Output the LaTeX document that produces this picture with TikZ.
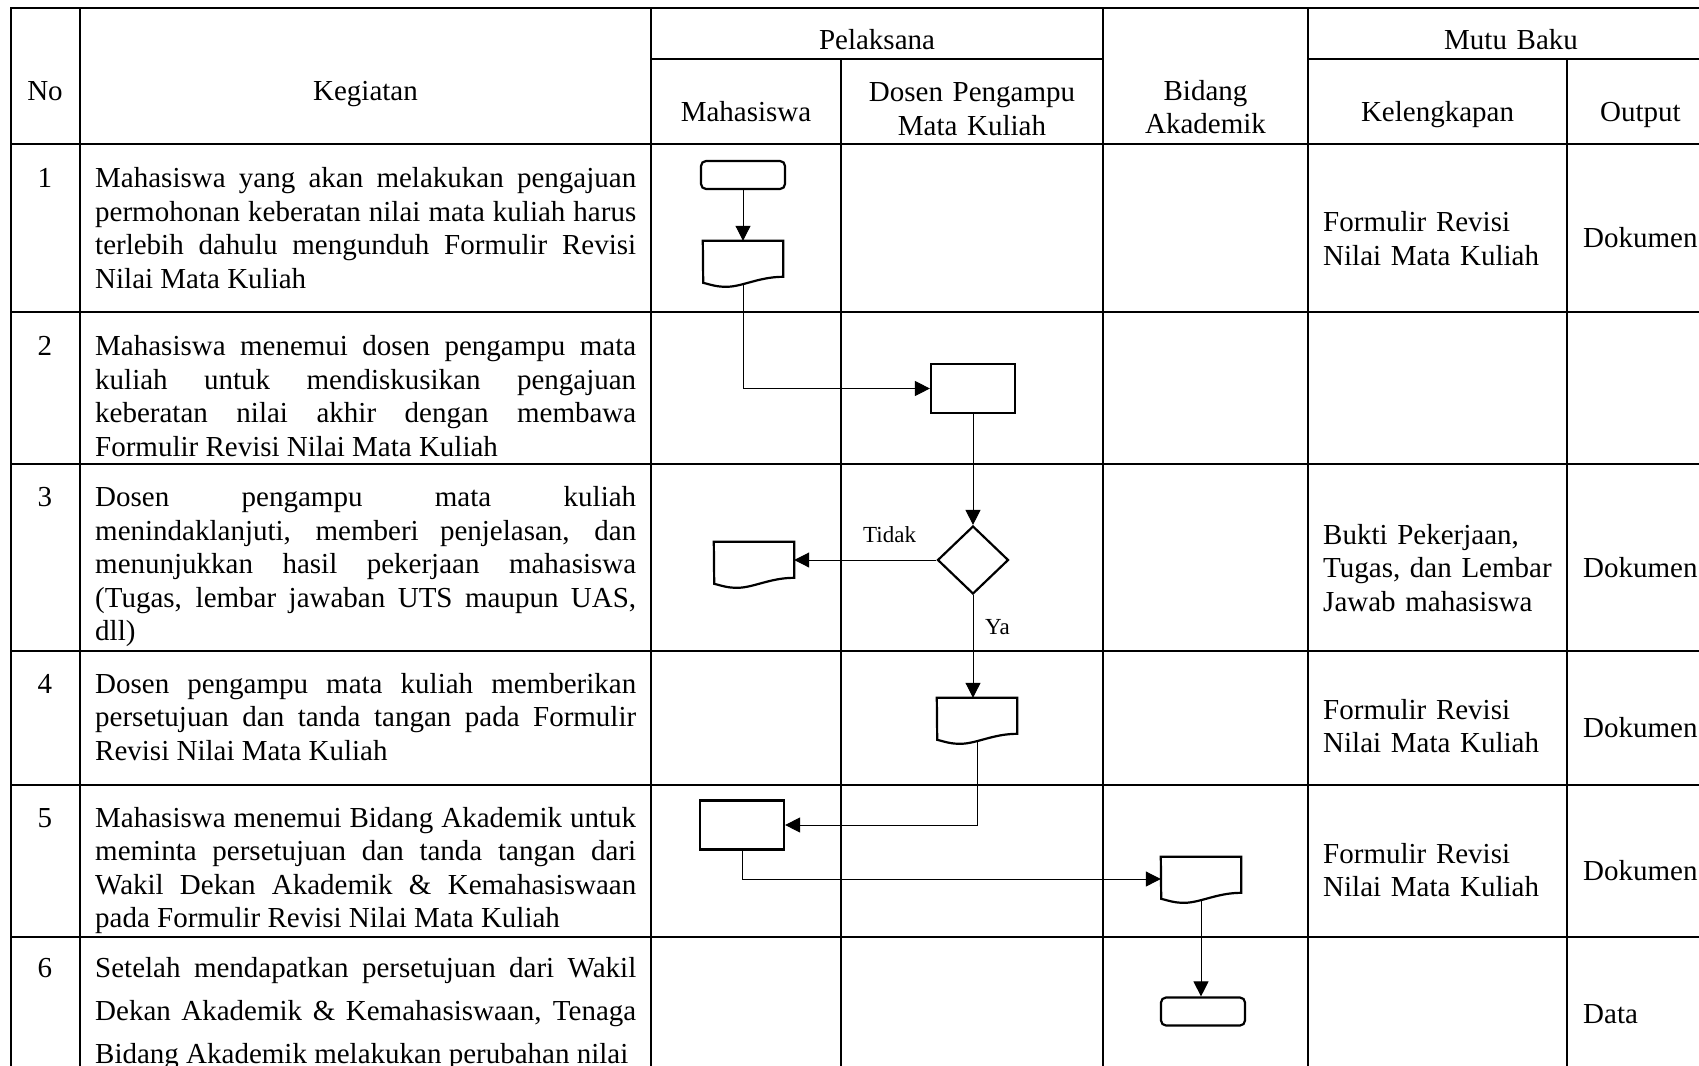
\documentclass[tikz,border=0pt]{standalone}
\usepackage{fontspec}
\setmainfont{Liberation Serif}
\usetikzlibrary{arrows.meta,shapes.geometric}
\hyphenpenalty=10000
\exhyphenpenalty=10000
\tolerance=10000
\hbadness=10000

\begin{document}
\begin{tikzpicture}[x=1pt, y=-1pt,
        tline/.style = {line width=2pt, line cap=rect},
        txt/.style = {font=\fontsize{29pt}{33.5pt}\selectfont, inner sep=0pt},
        head/.style = {txt, align=center, text width=250pt, anchor=base},
        task/.style = {txt, align=justify, text width=541pt, anchor=base west},
        note/.style = {txt, align=left, text width=240pt, anchor=base west},
        lbl/.style = {font=\fontsize{23pt}{27pt}\selectfont, inner sep=0pt, anchor=base west},
        term/.style = {draw, line width=2.2pt, rounded corners=5pt, minimum width=84pt, minimum height=28pt, inner sep=0pt},
        proc/.style = {draw, line width=2.2pt, minimum width=84pt, minimum height=49pt, inner sep=0pt},
        dec/.style = {draw, diamond, line width=2.2pt, minimum width=71pt, minimum height=68pt, inner sep=0pt},
        doc/.style = {minimum width=80pt, minimum height=44pt, inner sep=0pt},
        flow/.style = {line width=1pt, -{Triangle[length=15pt, width=15pt]}}]
    \path[use as bounding box, fill=white] (0,0) rectangle (1699,1065);

    \draw[tline] (11,8) -- (1710,8);
    \draw[tline] (651,59) -- (1103,59);
    \draw[tline] (1308,59) -- (1710,59);
    \foreach \y in {144,312,464,651,785,937}
        \draw[tline] (11,\y) -- (1710,\y);
    \foreach \x in {11,80,651,1103,1308}
        \draw[tline] (\x,8) -- (\x,1075);
    \foreach \x in {841,1567}
        \draw[tline] (\x,59) -- (\x,1075);

    \node[head] (no) at (45,100) {No};
    \node[head] (keg) at (365.5,100) {Kegiatan};
    \node[head] (pel) at (877,50) {Pelaksana};
    \node[head] (mutu) at (1511,50) {Mutu Baku};
    \node[head] (mhs) at (746,121.5) {Mahasiswa};
    \node[head] (dsn) at (972,101.5) {Dosen Pengampu\\Mata Kuliah};
    \node[head] (bid) at (1205.5,100) {Bidang\\Akademik};
    \node[head] (kel) at (1437.5,121.5) {Kelengkapan};
    \node[head] (out) at (1640.5,121.5) {Output};

    \node[head] (n1) at (45,187.7) {1};
    \node[head] (n2) at (45,355.5) {2};
    \node[head] (n3) at (45,506.7) {3};
    \node[head] (n4) at (45,693) {4};
    \node[head] (n5) at (45,827) {5};
    \node[head] (n6) at (45,977.3) {6};

    \node[task] (k1) at (95,187.7) {Mahasiswa yang akan melakukan pengajuan\linebreak
        permohonan keberatan nilai mata kuliah harus\linebreak
        terlebih dahulu mengunduh Formulir Revisi\linebreak
        Nilai Mata Kuliah};
    \node[task] (k2) at (95,355.5) {Mahasiswa menemui dosen pengampu mata\linebreak
        kuliah untuk mendiskusikan pengajuan\linebreak
        keberatan nilai akhir dengan membawa\linebreak
        Formulir Revisi Nilai Mata Kuliah};
    \node[task] (k3) at (95,506.7) {Dosen pengampu mata kuliah\linebreak
        menindaklanjuti, memberi penjelasan, dan\linebreak
        menunjukkan hasil pekerjaan mahasiswa\linebreak
        (Tugas, lembar jawaban UTS maupun UAS,\linebreak
        dll)};
    \node[task] (k4) at (95,693) {Dosen pengampu mata kuliah memberikan\linebreak
        persetujuan dan tanda tangan pada Formulir\linebreak
        Revisi Nilai Mata Kuliah};
    \node[task] (k5) at (95,827) {Mahasiswa menemui Bidang Akademik untuk\linebreak
        meminta persetujuan dan tanda tangan dari\linebreak
        Wakil Dekan Akademik \& Kemahasiswaan\linebreak
        pada Formulir Revisi Nilai Mata Kuliah};
    \node[task, font=\fontsize{29pt}{43pt}\selectfont] (k6) at (95,977.3) {\parfillskip=0pt
        Setelah mendapatkan persetujuan dari Wakil\linebreak
        Dekan Akademik \& Kemahasiswaan, Tenaga\linebreak
        Bidang Akademik melakukan perubahan nilai};

    \node[note] (c1) at (1323,231.5) {Formulir Revisi\\Nilai Mata Kuliah};
    \node[note] (c3) at (1323,544) {Bukti Pekerjaan,\\Tugas, dan Lembar\\Jawab mahasiswa};
    \node[note] (c4) at (1323,719) {Formulir Revisi\\Nilai Mata Kuliah};
    \node[note] (c5) at (1323,863) {Formulir Revisi\\Nilai Mata Kuliah};
    \node[note] (o1) at (1583,247.5) {Dokumen};
    \node[note] (o3) at (1583,577) {Dokumen};
    \node[note] (o4) at (1583,737) {Dokumen};
    \node[note] (o5) at (1583,880) {Dokumen};
    \node[note] (o6) at (1583,1023) {Data};

    \node[term] (t1) at (743,175) {};
    \node[doc] (d1) at (743,263) {};
    \node[proc] (p2) at (973,388.5) {};
    \node[dec] (q3) at (973,560) {};
    \node[doc] (d3) at (754,564) {};
    \node[doc] (d4) at (977,720) {};
    \node[proc] (p5) at (742,825) {};
    \node[doc] (d6) at (1201,879) {};
    \node[term] (t6) at (1203,1011.5) {};

    \foreach \d in {d1,d3,d4,d6}
        \draw[line width=2.2pt] (\d.north west) -- (\d.north east) -- ++(0pt,-36pt)
            .. controls +(-24pt,0pt) and +(16pt,0pt) .. ++(-57pt,-10pt)
            .. controls +(-10pt,0pt) and +(8pt,-2pt) .. ++(-23pt,4pt) -- cycle;

    \draw[flow] (t1) -- (d1);
    \draw[flow] (d1.south) |- (p2);
    \draw[flow] (p2) -- (q3);
    \draw[flow] (q3.west) -- (q3.west -| d3.east);
    \draw[flow] (q3.south) -- (q3.south |- d4.north);
    \draw[flow] (d4.south) |- (p5.east);
    \draw[flow] (p5.south) |- (d6.west);
    \draw[flow] (d6.south) -- (d6.south |- t6.north);

    \node[lbl] (tidak) at (863,542) {Tidak};
    \node[lbl] (ya) at (985,634) {Ya};
\end{tikzpicture}
\end{document}
